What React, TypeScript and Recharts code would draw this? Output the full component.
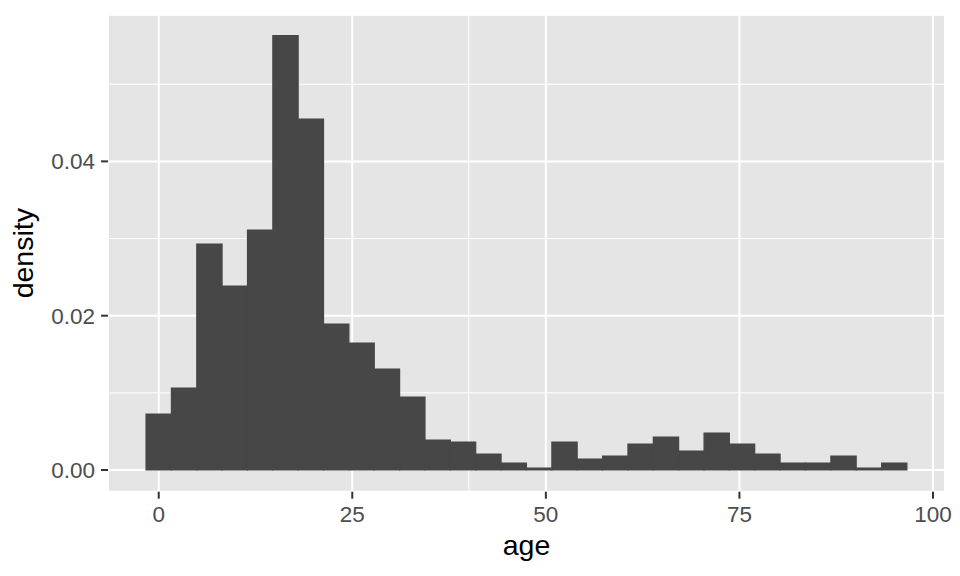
import React from "react";
import {
  BarChart,
  Bar,
  XAxis,
  YAxis,
  CartesianGrid,
} from "recharts";

// histogram of age, 30 bins (centres of each bin)
const binMid = [
  0, 3.276, 6.552, 9.828, 13.103, 16.379, 19.655, 22.931, 26.207, 29.483,
  32.759, 36.034, 39.31, 42.586, 45.862, 49.138, 52.414, 55.69, 58.966, 62.241,
  65.517, 68.793, 72.069, 75.345, 78.621, 81.897, 85.172, 88.448, 91.724, 95,
];

const density = [
  0.00726, 0.01063, 0.02929, 0.02384, 0.0311, 0.05629, 0.04549, 0.01892,
  0.01646, 0.01309, 0.00946, 0.00389, 0.00363, 0.00207, 0.00091, 0.00026,
  0.00363, 0.00143, 0.00181, 0.00337, 0.00428, 0.00246, 0.00479, 0.00337,
  0.00207, 0.00091, 0.00091, 0.00181, 0.00026, 0.00091,
];

const xTicks = [0, 25, 50, 75, 100];
const xMinorTicks = [12.5, 37.5, 62.5, 87.5];
const yTicks = [0, 0.02, 0.04];
const yMinorTicks = [0.01, 0.03, 0.05];

const X_DOMAIN: [number, number] = [-6.55, 101.55];
const Y_DOMAIN: [number, number] = [-0.00281, 0.05901];

const BAR_FILL = "#474747";
const PANEL_BG = "#E5E5E5";
const FONT = "'Liberation Sans', Arial, Helvetica, sans-serif";

export default function App() {
  const data = binMid.map((mid, i) => ({ mid, density: density[i] }));

  const tickStyle = { fill: "#4D4D4D", fontSize: 22.5, fontFamily: FONT };

  return (
    <div style={{ position: "absolute", left: 0, top: 0, fontFamily: FONT }}>
      <BarChart
        width={960}
        height={576}
        data={data}
        barCategoryGap={0}
        barGap={0}
        margin={{ top: 14.7, right: 15, bottom: 0, left: 0 }}
      >
        <CartesianGrid fill={PANEL_BG} stroke="#FFFFFF" strokeWidth={2} />
        <CartesianGrid
          xAxisId="minor"
          yAxisId="minor"
          stroke="#FFFFFF"
          strokeWidth={1}
        />
        <XAxis
          dataKey="mid"
          type="number"
          domain={X_DOMAIN}
          allowDataOverflow
          ticks={xTicks}
          interval={0}
          height={84.3}
          axisLine={false}
          tickLine={{ stroke: "#333333", strokeWidth: 2 }}
          tickSize={7}
          tickMargin={7}
          tick={tickStyle}
          label={{
            value: "age",
            position: "insideBottom",
            offset: 21,
            style: { fill: "#000000", fontSize: 28.5, fontFamily: FONT },
          }}
        />
        <XAxis
          xAxisId="minor"
          type="number"
          domain={X_DOMAIN}
          allowDataOverflow
          ticks={xMinorTicks}
          hide
        />
        <YAxis
          type="number"
          domain={Y_DOMAIN}
          allowDataOverflow
          ticks={yTicks}
          interval={0}
          width={108}
          axisLine={false}
          tickLine={{ stroke: "#333333", strokeWidth: 2 }}
          tickSize={7}
          tickMargin={6}
          tick={tickStyle}
          tickFormatter={(v: number) => v.toFixed(2)}
          label={{
            value: "density",
            angle: -90,
            position: "insideLeft",
            offset: 23,
            style: {
              fill: "#000000",
              fontSize: 28.5,
              fontFamily: FONT,
              textAnchor: "middle",
            },
          }}
        />
        <YAxis
          yAxisId="minor"
          type="number"
          domain={Y_DOMAIN}
          allowDataOverflow
          ticks={yMinorTicks}
          hide
        />
        {/* barSize just under the bin spacing (recharts truncates auto widths);
            stroke in the fill colour closes the sub-pixel seams */}
        <Bar
          dataKey="density"
          fill={BAR_FILL}
          stroke={BAR_FILL}
          strokeWidth={1.2}
          barSize={25.3}
          isAnimationActive={false}
        />
      </BarChart>
    </div>
  );
}
